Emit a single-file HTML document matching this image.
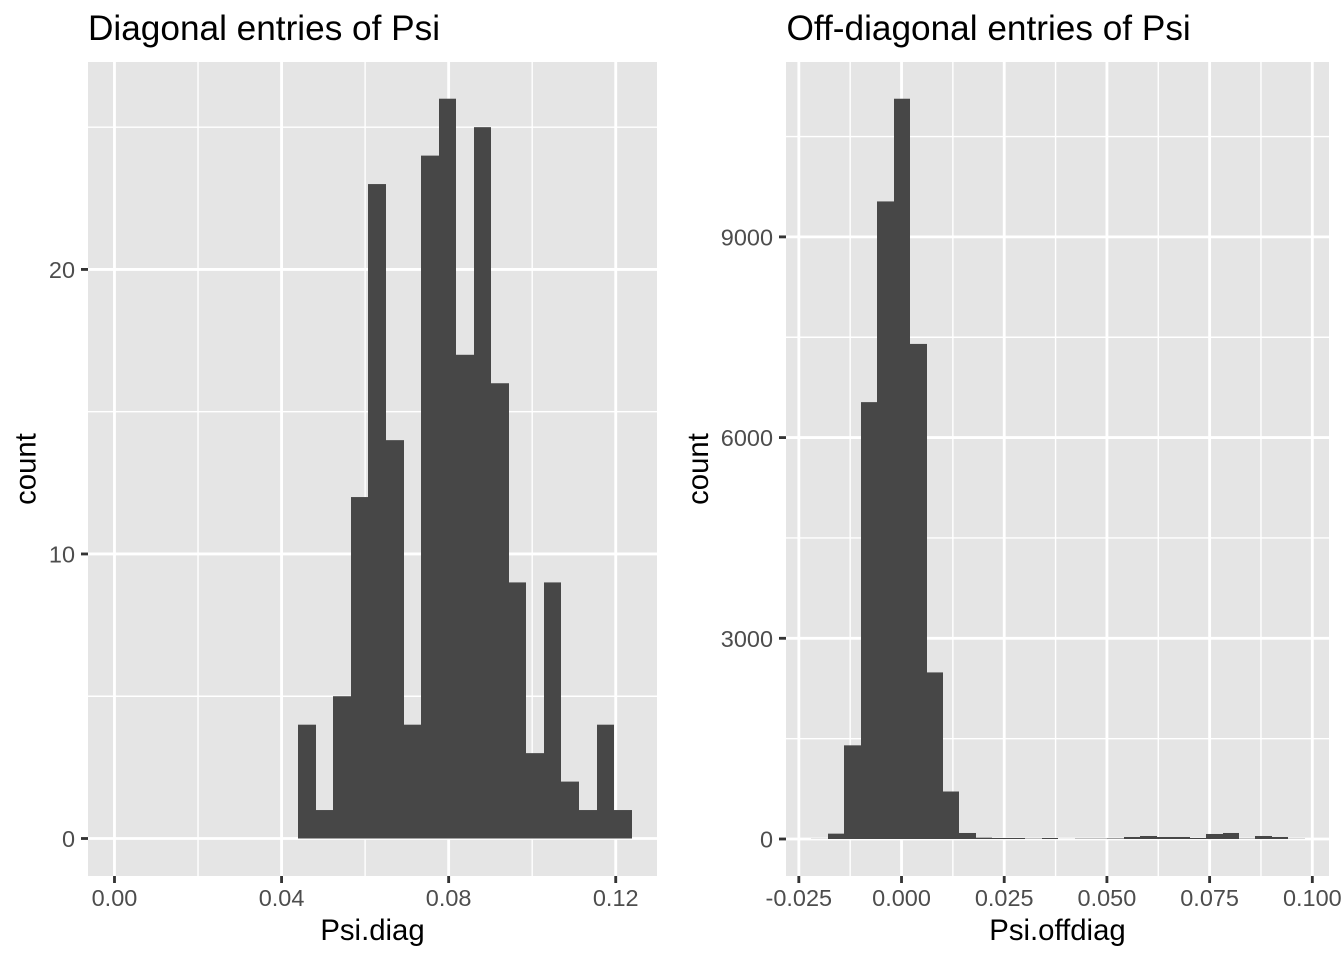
<!DOCTYPE html>
<html>
<head>
<meta charset="utf-8">
<title>Diagonal and off-diagonal entries of Psi</title>
<style>
html,body{margin:0;padding:0;background:#fff;width:1344px;height:960px;overflow:hidden}
svg{display:block}
text{font-family:"Liberation Sans",Arial,sans-serif}
</style>
</head>
<body>
<svg id="figure" xmlns="http://www.w3.org/2000/svg" width="1344" height="960" viewBox="0 0 1344 960"></svg>
<script>
// Left chart data
const diagBinStart = 0.043983;
const diagBinWidth = 0.0042016;
const diagCounts = [4, 1, 5, 12, 23, 14, 4, 24, 26, 17, 25, 16, 9, 3, 9, 2, 1, 4, 1];
const diagXTicks = [0, 0.04, 0.08, 0.12];
const diagXTickLabels = ["0.00", "0.04", "0.08", "0.12"];
const diagYTicks = [0, 10, 20];
const diagYTickLabels = ["0", "10", "20"];
const diagXDomain = [-0.00634, 0.12988];
const diagYDomain = [-1.318, 27.29];

// Right chart data
const offBinStart = -0.02193;
const offBinWidth = 0.004003;
const offCounts = [2, 80, 1400, 6530, 9530, 11065, 7400, 2490, 710, 90, 20, 15, 15, 5, 15, 1, 5, 5, 8, 30, 45, 30, 30, 15, 75, 90, 5, 45, 30, 3];
const offXTicks = [-0.025, 0, 0.025, 0.05, 0.075, 0.1];
const offXTickLabels = ["-0.025", "0.000", "0.025", "0.050", "0.075", "0.100"];
const offYTicks = [0, 3000, 6000, 9000];
const offYTickLabels = ["0", "3000", "6000", "9000"];
const offXDomain = [-0.02812, 0.10406];
const offYDomain = [-553, 11614];

const SVG_NS = "http://www.w3.org/2000/svg";
const fig = document.getElementById("figure");

function make(tag, parent, props, text) {
  const el = document.createElementNS(SVG_NS, tag);
  for (const k in props) el.setAttribute(k, props[k]);
  if (text !== undefined) el.textContent = text;
  parent.appendChild(el);
  return el;
}

function linearScale(domain, range) {
  return function (v) {
    return range[0] + (v - domain[0]) / (domain[1] - domain[0]) * (range[1] - range[0]);
  };
}

function midpoints(ticks) {
  const out = [];
  for (let i = 0; i + 1 < ticks.length; i++) out.push((ticks[i] + ticks[i + 1]) / 2);
  return out;
}

function drawPanel(cfg) {
  const x = linearScale(cfg.xDomain, [cfg.left, cfg.right]);
  const y = linearScale(cfg.yDomain, [cfg.bottom, cfg.top]);

  const g = make("g", fig, {});
  
  

  const bg = make("rect", g, {x: cfg.left, y: cfg.top, width: cfg.right - cfg.left, height: cfg.bottom - cfg.top, fill: "#e5e5e5"});
  
  

  const yMinor = midpoints(cfg.yTicks).concat([cfg.yTicks[cfg.yTicks.length - 1] + (cfg.yTicks[1] - cfg.yTicks[0]) / 2]);
  yMinor.forEach(function (v) {
    const l = make("line", g, {x1: cfg.left, x2: cfg.right, y1: y(v), y2: y(v), stroke: "#fff", "stroke-width": 1.42});
    
    
  });
  midpoints(cfg.xTicks).forEach(function (v) {
    const l = make("line", g, {x1: x(v), x2: x(v), y1: cfg.top, y2: cfg.bottom, stroke: "#fff", "stroke-width": 1.42});
    
    
  });
  cfg.yTicks.forEach(function (v) {
    const l = make("line", g, {x1: cfg.left, x2: cfg.right, y1: y(v), y2: y(v), stroke: "#fff", "stroke-width": 2.84});
    
    
  });
  cfg.xTicks.forEach(function (v) {
    const l = make("line", g, {x1: x(v), x2: x(v), y1: cfg.top, y2: cfg.bottom, stroke: "#fff", "stroke-width": 2.84});
    
    
  });

  cfg.counts.forEach(function (c, i) {
    const x0 = Math.round(x(cfg.binStart + i * cfg.binWidth));
    const x1 = Math.round(x(cfg.binStart + (i + 1) * cfg.binWidth));
    const r = make("rect", g, {x: x0, y: y(c), width: x1 - x0, height: y(0) - y(c), fill: "#474747"});
    
    
  });

  cfg.xTicks.forEach(function (v, i) {
    const t = make("line", g, {x1: x(v), x2: x(v), y1: cfg.bottom, y2: cfg.bottom + 7, stroke: "#333", "stroke-width": 2.84});
    
    
    const lab = make("text", g, {x: x(v), y: 906, "text-anchor": "middle", "font-size": 23.47, fill: "#4d4d4d"}, cfg.xTickLabels[i]);
    
    
  });
  cfg.yTicks.forEach(function (v, i) {
    const t = make("line", g, {x1: cfg.left - 7, x2: cfg.left, y1: y(v), y2: y(v), stroke: "#333", "stroke-width": 2.84});
    
    
    const lab = make("text", g, {x: cfg.left - 13, y: y(v) + 8.6, "text-anchor": "end", "font-size": 23.47, fill: "#4d4d4d"}, cfg.yTickLabels[i]);
    
    
  });

  const title = make("text", g, {x: cfg.titleX, y: 40, "font-size": 35.2, fill: "#000"}, cfg.title);
  
  

  const xt = make("text", g, {x: (cfg.left + cfg.right) / 2, y: 940, "text-anchor": "middle", "font-size": 29.33, fill: "#000"}, cfg.xLabel);
  
  

  const yt = make("text", g, {x: 0, y: 0, transform: "translate(" + cfg.yTitleX + "," + (cfg.top + cfg.bottom) / 2 + ") rotate(-90)", "text-anchor": "middle", "font-size": 29.33, fill: "#000"}, "count");
  
  
}

drawPanel({
  name: "diagonal",
  left: 88, right: 657, top: 62, bottom: 876,
  xDomain: diagXDomain, yDomain: diagYDomain,
  xTicks: diagXTicks, xTickLabels: diagXTickLabels,
  yTicks: diagYTicks, yTickLabels: diagYTickLabels,
  counts: diagCounts, binStart: diagBinStart, binWidth: diagBinWidth,
  title: "Diagonal entries of Psi", titleX: 88, xLabel: "Psi.diag", yTitleX: 35.5
});

drawPanel({
  name: "off-diagonal",
  left: 786, right: 1329, top: 62, bottom: 876,
  xDomain: offXDomain, yDomain: offYDomain,
  xTicks: offXTicks, xTickLabels: offXTickLabels,
  yTicks: offYTicks, yTickLabels: offYTickLabels,
  counts: offCounts, binStart: offBinStart, binWidth: offBinWidth,
  title: "Off-diagonal entries of Psi", titleX: 786.5, xLabel: "Psi.offdiag", yTitleX: 708
});
</script>
</body>
</html>
